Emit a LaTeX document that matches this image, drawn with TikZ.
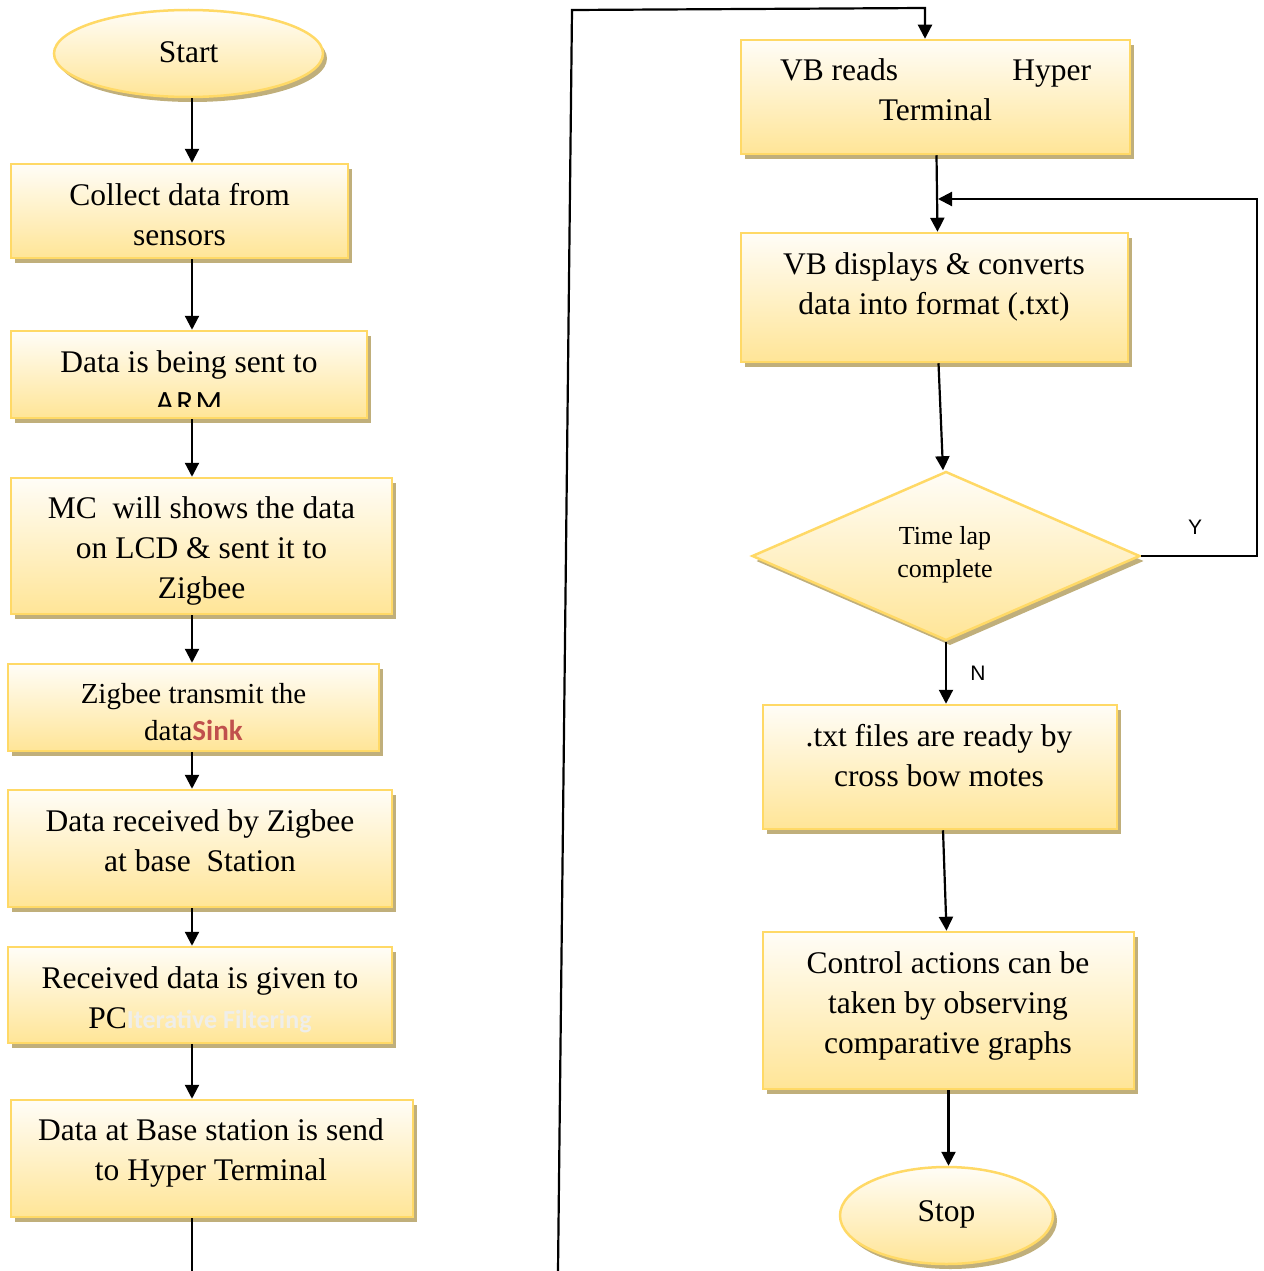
\documentclass[tikz,border=0pt]{standalone}
\usepackage{fontspec}
\setmainfont{Liberation Serif}
\newfontfamily\carlito{Carlito}
\newfontfamily\lsans{Liberation Sans}
\usetikzlibrary{shapes.geometric,shadows,arrows.meta}
\definecolor{bordc}{HTML}{FFD966}
\definecolor{topc}{HTML}{FFFDF7}
\definecolor{botc}{HTML}{FFE597}
\definecolor{shadc}{HTML}{C0AF7B}
\definecolor{sinkred}{HTML}{C0504D}
\definecolor{faintc}{HTML}{EFEEEA}
\begin{document}
\begin{tikzpicture}[x=1pt,y=-1pt,
  fshape/.style={draw=bordc, line width=2.5pt, top color=topc, bottom color=botc,
    drop shadow={shadow xshift=4pt, shadow yshift=-5pt, fill=shadc, opacity=1}, inner sep=0pt},
  rbox/.style={fshape, rectangle},
  oval/.style={fshape, ellipse, font=\fontsize{31.5}{40}\selectfont},
  dia/.style={fshape, diamond},
  txt/.style={align=center, inner sep=0pt, font=\fontsize{31.5}{40}\selectfont},
  lbl/.style={inner sep=0pt, font=\lsans\fontsize{21}{24}\selectfont},
  arr/.style={line width=2.2pt, -{Triangle[width=14pt,length=14pt]}},
  ln/.style={line width=2.2pt}
]
\useasboundingbox (0,0) rectangle (1263,1271);

% left column
\node[oval, minimum width=269pt, minimum height=87pt] (start) at (188.5,53.5) {\raisebox{3pt}{Start}};
\node[rbox, minimum width=337pt, minimum height=94pt] (b1) at (179.5,211) {};
\node[txt] (b1t) at (179.5,215) {Collect data from\\sensors};
\node[rbox, minimum width=356pt, minimum height=87pt] (b2) at (189,374.5) {};
\node[txt, anchor=base] (b2t) at (189,372) {Data is being sent to};
\begin{scope}
  \clip (13,333) rectangle (365,406);
  \node[inner sep=0pt, anchor=base, font=\carlito\fontsize{31}{40}\selectfont\addfontfeatures{LetterSpace=8}] (b2a) at (189,412) {ARM};
\end{scope}
\node[rbox, minimum width=381pt, minimum height=136pt] (b3) at (201.5,546) {};
\node[txt] (b3t) at (201.5,550.5) {MC\ \ will shows the data\\on LCD \& sent it to\\Zigbee};
\node[rbox, minimum width=371pt, minimum height=87pt] (b4) at (193.5,707.5) {};
\node[txt, font=\fontsize{29}{37}\selectfont] (b4t) at (193.5,712) {Zigbee transmit the\\data{\carlito\bfseries\color{sinkred}Sink}};
\node[rbox, minimum width=384pt, minimum height=117pt] (b5) at (200,848.5) {};
\node[txt] (b5t) at (200,841) {Data received by Zigbee\\at base\ \ Station};
\node[rbox, minimum width=384pt, minimum height=96pt] (b6) at (200,995) {};
\node[txt] (b6t) at (200,1000) {Received data is given to\\PC{\carlito\bfseries\fontsize{26}{40}\selectfont\color{faintc}Iterative Filtering}};
\node[rbox, minimum width=402pt, minimum height=117pt] (b7) at (212,1158.5) {};
\node[txt] (b7t) at (211,1153) {Data at Base station is send\\to Hyper Terminal};

% right column
\node[rbox, minimum width=389pt, minimum height=114pt] (r1) at (935.5,97) {};
\node[txt] (r1t) at (935.5,90) {\makebox[311pt]{VB reads\hfill Hyper}\\Terminal};
\node[rbox, minimum width=387pt, minimum height=129pt] (r2) at (934.5,297.5) {};
\node[txt] (r2t) at (934,287) {VB displays \& converts\\data into format (.txt)};
\node[dia, minimum width=388pt, minimum height=169pt] (d1) at (946,556) {};
\node[txt, font=\fontsize{26}{33}\selectfont] (d1t) at (945,555) {Time lap\\complete};
\node[rbox, minimum width=354pt, minimum height=124pt] (r3) at (940,767) {};
\node[txt] (r3t) at (939,755.5) {.txt files are ready by\\cross bow motes};
\node[rbox, minimum width=371pt, minimum height=157pt] (r4) at (948.5,1010.5) {};
\node[txt] (r4t) at (948,1006) {Control actions can be\\taken by observing\\comparative graphs};
\node[oval, minimum width=213pt, minimum height=97pt] (stop) at (946.5,1215.5) {\raisebox{9pt}{Stop}};

% labels
\node[lbl] (ylab) at (1195,527) {Y};
\node[lbl] (nlab) at (978,673) {N};

% coordinates
\coordinate (colL) at (192,0);
\coordinate (botL) at (192,1271);
\coordinate (botR) at (558,1271);
\coordinate (topL) at (572,10);
\coordinate (topR) at (925,8);
\coordinate (loopA) at (1257,553);
\coordinate (loopB) at (1257,199);
\coordinate (join) at (938,199);

% connectors left
\draw[arr] (start.south -| colL) -- (b1.north -| colL);
\draw[arr] (b1.south -| colL) -- (b2.north -| colL);
\draw[arr] (b2.south -| colL) -- (b3.north -| colL);
\draw[arr] (b3.south -| colL) -- (b4.north -| colL);
\draw[arr] (b4.south -| colL) -- (b5.north -| colL);
\draw[arr] (b5.south -| colL) -- (b6.north -| colL);
\draw[arr] (b6.south -| colL) -- (b7.north -| colL);
\draw[ln] (b7.south -| colL) -- (botL);
\draw[arr] (botR) -- (topL) -- (topR) -- (r1.north -| topR);

% connectors right
\draw[arr] ([xshift=1pt]r1.south) -- ([xshift=3pt]r2.north);
\draw[arr] (d1.east) -- (d1.east -| loopA) -- (loopB) -- (join);
\draw[arr] ([xshift=4pt]r2.south) -- ([xshift=-3pt]d1.north);
\draw[arr] (d1.south) -- (r3.north -| d1.south);
\draw[arr] ([xshift=3pt]r3.south) -- ([xshift=-2pt]r4.north);
\draw[arr] (r4.south) -- (stop.north -| r4.south);
\end{tikzpicture}
\end{document}
